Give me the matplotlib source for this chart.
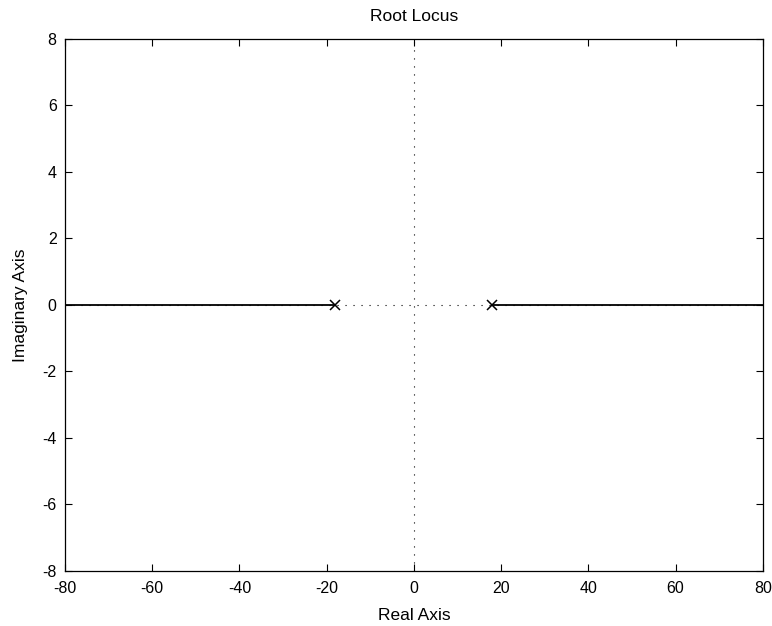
import matplotlib
matplotlib.use("Agg")
import matplotlib.pyplot as plt

plt.rcParams['font.family'] = ['Liberation Sans', 'DejaVu Sans']
plt.rcParams['axes.unicode_minus'] = False

# open-loop poles on the real axis
poles_re = [-18, 18]
poles_im = [0, 0]

# locus branches (real axis segments)
branch_left_x = [-80, -18]
branch_left_y = [0, 0]
branch_right_x = [18, 80]
branch_right_y = [0, 0]

x_ticks = [-80, -60, -40, -20, 0, 20, 40, 60, 80]
y_ticks = [-8, -6, -4, -2, 0, 2, 4, 6, 8]

fig = plt.figure(figsize=(7.72, 6.26), dpi=100)
ax = fig.add_axes([0.0842, 0.0879, 0.9038, 0.8498])

# dotted axis lines (sparse MATLAB-style dots)
dots = (0, (1, 6.2))
ax.axhline(0, color='black', linestyle=dots, linewidth=0.8)
ax.axvline(0, color='black', linestyle=dots, linewidth=0.8)

ax.plot(branch_left_x, branch_left_y, color='black', linewidth=1.3)
ax.plot(branch_right_x, branch_right_y, color='black', linewidth=1.3)
ax.plot(poles_re, poles_im, linestyle='none', marker='x', color='black',
        markersize=7, markeredgewidth=1.1)

ax.set_xlim(-80, 80)
ax.set_ylim(-8, 8)
ax.set_xticks(x_ticks)
ax.set_yticks(y_ticks)
ax.tick_params(axis='both', direction='in', top=True, right=True, length=5,
               labelsize=11.5)
ax.tick_params(axis='x', pad=7)
ax.tick_params(axis='y', pad=6)
for s in ax.spines.values():
    s.set_linewidth(0.9)

ax.set_title('Root Locus', fontsize=12.5, pad=13)
ax.set_xlabel('Real Axis', fontsize=12.5, labelpad=9)
ax.set_ylabel('Imaginary Axis', fontsize=12.5, labelpad=10)

fig.savefig('out.png', dpi=100)
